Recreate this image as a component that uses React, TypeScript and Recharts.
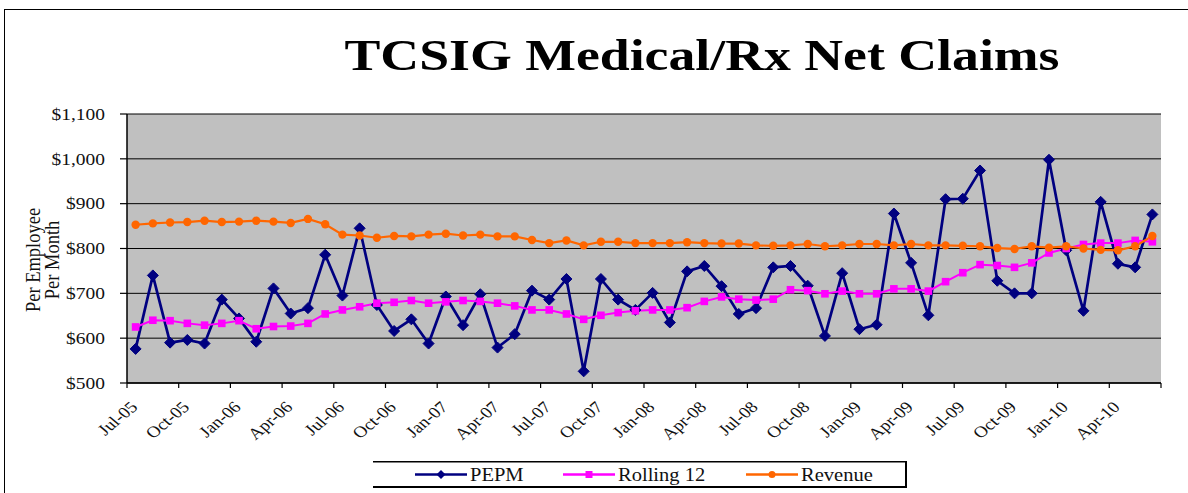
import React from "react";
import { LineChart, Line, XAxis, YAxis, CartesianGrid, Legend } from "recharts";

const months = [
  "Jul-05","Aug-05","Sep-05","Oct-05","Nov-05","Dec-05","Jan-06","Feb-06","Mar-06","Apr-06","May-06","Jun-06",
  "Jul-06","Aug-06","Sep-06","Oct-06","Nov-06","Dec-06","Jan-07","Feb-07","Mar-07","Apr-07","May-07","Jun-07",
  "Jul-07","Aug-07","Sep-07","Oct-07","Nov-07","Dec-07","Jan-08","Feb-08","Mar-08","Apr-08","May-08","Jun-08",
  "Jul-08","Aug-08","Sep-08","Oct-08","Nov-08","Dec-08","Jan-09","Feb-09","Mar-09","Apr-09","May-09","Jun-09",
  "Jul-09","Aug-09","Sep-09","Oct-09","Nov-09","Dec-09","Jan-10","Feb-10","Mar-10","Apr-10","May-10","Jun-10",
];

const pepm = [
  576, 740, 590, 596, 588, 686, 644, 592, 711, 655, 667, 786,
  695, 845, 674, 616, 642, 588, 693, 629, 698, 579, 609, 706,
  686, 732, 526, 732, 686, 663, 701, 635, 749, 761, 716, 654,
  667, 758, 761, 717, 605, 745, 620, 630, 878, 768, 651, 910,
  911, 974, 728, 700, 700, 998, 796, 661, 904, 766, 758, 876,
];

const rolling12 = [
  625, 640, 639, 633, 629, 633, 639, 621, 626, 627, 633, 654,
  663, 670, 678, 680, 684, 678, 681, 684, 682, 678, 672, 663,
  663, 654, 642, 651, 657, 661, 663, 663, 668, 682, 692, 687,
  685, 687, 708, 706, 699, 705, 699, 699, 710, 710, 705, 726,
  746, 764, 762, 758, 768, 790, 800, 809, 812, 812, 818, 815,
];

const revenue = [
  853, 856, 858, 859, 862, 859, 860, 862, 860, 857, 866, 854,
  831, 829, 824, 828, 827, 831, 833, 829, 831, 827, 827, 819,
  812, 818, 807, 815, 815, 812, 812, 812, 814, 812, 811, 811,
  807, 806, 807, 810, 805, 807, 810, 810, 807, 810, 807, 807,
  806, 805, 801, 799, 805, 802, 805, 800, 797, 796, 805, 828,
];

const yTicks = [500, 600, 700, 800, 900, 1000, 1100];

const seriesNames = ["PEPM", "Rolling 12", "Revenue"];
const seriesColors = ["#000080", "#FF00FF", "#FF6600"];

const data = months.map((m, i) => ({
  month: m,
  pepm: pepm[i],
  rolling: rolling12[i],
  revenue: revenue[i],
}));

const W = 1188;
const H = 493;
const PLOT_LEFT = 127;
const PLOT_RIGHT = 1161;
const PLOT_TOP = 114;
const PLOT_BOTTOM = 383;
const PLOT_W = PLOT_RIGHT - PLOT_LEFT;
const STEP = PLOT_W / months.length;
const FONT = "'Liberation Serif', 'Times New Roman', serif";
const STRETCH = 1.18;
const serifStyle = { fontFamily: FONT };

const fmt = (v: number) => "$" + v.toLocaleString("en-US");

const Diamond = (props: any) => {
  const { cx, cy, index } = props;
  if (cx == null || cy == null) return <g key={index} />;
  return (
    <path
      key={index}
      d={`M${cx},${cy - 5.5} L${cx + 5.5},${cy} L${cx},${cy + 5.5} L${cx - 5.5},${cy} Z`}
      fill={seriesColors[0]}
      stroke={seriesColors[0]}
      strokeWidth={1}
    />
  );
};

const Square = (props: any) => {
  const { cx, cy, index } = props;
  if (cx == null || cy == null) return <g key={index} />;
  return <rect key={index} x={cx - 3.8} y={cy - 3.8} width={7.6} height={7.6} fill={seriesColors[1]} />;
};

const Circle = (props: any) => {
  const { cx, cy, index } = props;
  if (cx == null || cy == null) return <g key={index} />;
  return <circle key={index} cx={cx} cy={cy} r={4.2} fill={seriesColors[2]} />;
};

const XTick = (props: any) => {
  const { x, y, payload } = props;
  const idx = payload.index;
  const boundary = x - STEP / 2;
  return (
    <g>
      <line x1={boundary} y1={y} x2={boundary} y2={y + 5} stroke="#000" strokeWidth={1.2} />
      {idx === months.length - 3 && (
        <line x1={x + STEP * 2.5} y1={y} x2={x + STEP * 2.5} y2={y + 5} stroke="#000" strokeWidth={1.2} />
      )}
      <text
        transform={`translate(${x + 3},${y + 25}) scale(${STRETCH},1) rotate(-45)`}
        textAnchor="end"
        fontFamily={FONT}
        style={serifStyle}
        fontSize={16}
        fill="#111"
      >
        {payload.value}
      </text>
    </g>
  );
};

const YTick = (props: any) => {
  const { x, y, payload } = props;
  return (
    <text
      transform={`translate(${x},${y}) scale(${STRETCH},1)`}
      textAnchor="end"
      dy="0.35em"
      fontFamily={FONT}
      style={serifStyle}
      fontSize={16.5}
      fill="#111"
    >
      {fmt(payload.value)}
    </text>
  );
};

const LegendBox = () => {
  const items = [
    { left: 42, icon: "diamond" },
    { left: 190, icon: "square" },
    { left: 373, icon: "circle" },
  ];
  return (
    <svg width={534} height={27} style={{ display: "block" }}>
      <rect x={0} y={0} width={534} height={27} fill="#fff" />
      <line x1={0} y1={0.75} x2={533} y2={0.75} stroke="#000" strokeWidth={1.5} />
      <line x1={0} y1={26} x2={533} y2={26} stroke="#000" strokeWidth={2} />
      <line x1={533} y1={0} x2={533} y2={27} stroke="#000" strokeWidth={2} />
      {items.map((it, i) => (
        <g key={seriesNames[i]} transform={`translate(${it.left},13.5)`}>
          <line x1={0} y1={0} x2={52} y2={0} stroke={seriesColors[i]} strokeWidth={2.5} />
          {it.icon === "diamond" && <path d="M26,-4.5 L30.5,0 L26,4.5 L21.5,0 Z" fill={seriesColors[i]} />}
          {it.icon === "square" && <rect x={22.5} y={-3.5} width={7} height={7} fill={seriesColors[i]} />}
          {it.icon === "circle" && <circle cx={26} cy={0} r={3.5} fill={seriesColors[i]} />}
          <text
            transform={`translate(55,6) scale(${STRETCH - 0.04},1)`}
            fontFamily={FONT}
            style={serifStyle}
            fontSize={18}
            fill="#111"
          >
            {seriesNames[i]}
          </text>
        </g>
      ))}
    </svg>
  );
};

export default function App() {
  const yAxisWidth = 60;
  const xAxisHeight = 40;
  return (
    <div style={{ position: "absolute", left: 0, top: 0, width: W, height: H, background: "#fff", overflow: "hidden", fontFamily: FONT }}>
      <div
        style={{
          position: "absolute",
          left: 4,
          top: 9,
          width: W,
          height: H,
          borderTop: "1.5px solid #000",
          borderLeft: "1.5px solid #000",
        }}
      />
      <svg style={{ position: "absolute", left: 0, top: 0 }} width={W} height={100}>
        <text
          x={702}
          y={70}
          textAnchor="middle"
          fontFamily={FONT}
          style={serifStyle}
          fontWeight="bold"
          fontSize={44}
          textLength={715}
          lengthAdjust="spacingAndGlyphs"
          fill="#000"
        >
          TCSIG Medical/Rx Net Claims
        </text>
      </svg>
      <div style={{ position: "absolute", left: 0, top: 0 }}>
        <LineChart
          width={W}
          height={H}
          data={data}
          style={serifStyle}
          margin={{
            top: PLOT_TOP,
            right: W - PLOT_RIGHT,
            bottom: H - PLOT_BOTTOM - xAxisHeight,
            left: PLOT_LEFT - yAxisWidth,
          }}
        >
          <CartesianGrid vertical={false} stroke="#000" strokeWidth={1} fill="#C0C0C0" fillOpacity={1} />
          <XAxis
            dataKey="month"
            interval={2}
            height={xAxisHeight}
            padding={{ left: STEP / 2, right: STEP / 2 }}
            axisLine={{ stroke: "#000", strokeWidth: 1.5 }}
            tickLine={false}
            tickSize={0}
            tickMargin={0}
            tick={<XTick />}
          />
          <XAxis
            xAxisId="top"
            orientation="top"
            dataKey="month"
            height={0}
            tick={false}
            tickLine={false}
            axisLine={{ stroke: "#808080", strokeWidth: 1.5 }}
          />
          <YAxis
            domain={[500, 1100]}
            ticks={yTicks}
            width={yAxisWidth}
            axisLine={{ stroke: "#000", strokeWidth: 1.5 }}
            tickLine={{ stroke: "#000", strokeWidth: 1.2 }}
            tickSize={7}
            tickMargin={15}
            tick={<YTick />}
            allowDataOverflow
          />
          <YAxis
            yAxisId="right"
            orientation="right"
            domain={[500, 1100]}
            width={0}
            tick={false}
            tickLine={false}
            axisLine={{ stroke: "#808080", strokeWidth: 1.5 }}
          />
          <Legend
            layout="horizontal"
            verticalAlign="middle"
            align="center"
            wrapperStyle={{ position: "absolute", left: 373, top: 461, width: 534, height: 27 }}
            content={() => <LegendBox />}
          />
          <Line
            dataKey="pepm"
            name={seriesNames[0]}
            stroke={seriesColors[0]}
            strokeWidth={2.7}
            dot={(p: any) => <Diamond {...p} key={p.index} />}
            activeDot={false}
            isAnimationActive={false}
          />
          <Line
            dataKey="rolling"
            name={seriesNames[1]}
            stroke={seriesColors[1]}
            strokeWidth={2}
            dot={(p: any) => <Square {...p} key={p.index} />}
            activeDot={false}
            isAnimationActive={false}
          />
          <Line
            dataKey="revenue"
            name={seriesNames[2]}
            stroke={seriesColors[2]}
            strokeWidth={2.2}
            dot={(p: any) => <Circle {...p} key={p.index} />}
            activeDot={false}
            isAnimationActive={false}
          />
        </LineChart>
      </div>
      <svg style={{ position: "absolute", left: 0, top: 0, pointerEvents: "none" }} width={W} height={H}>
        <text
          transform={`translate(40,260) scale(${STRETCH},1) rotate(-90)`}
          textAnchor="middle"
          fontFamily={FONT}
          style={serifStyle}
          fontSize={18.5}
          fill="#111"
        >
          Per Employee
        </text>
        <text
          transform={`translate(59,260) scale(${STRETCH},1) rotate(-90)`}
          textAnchor="middle"
          fontFamily={FONT}
          style={serifStyle}
          fontSize={18.5}
          fill="#111"
        >
          Per Month
        </text>
      </svg>
    </div>
  );
}
